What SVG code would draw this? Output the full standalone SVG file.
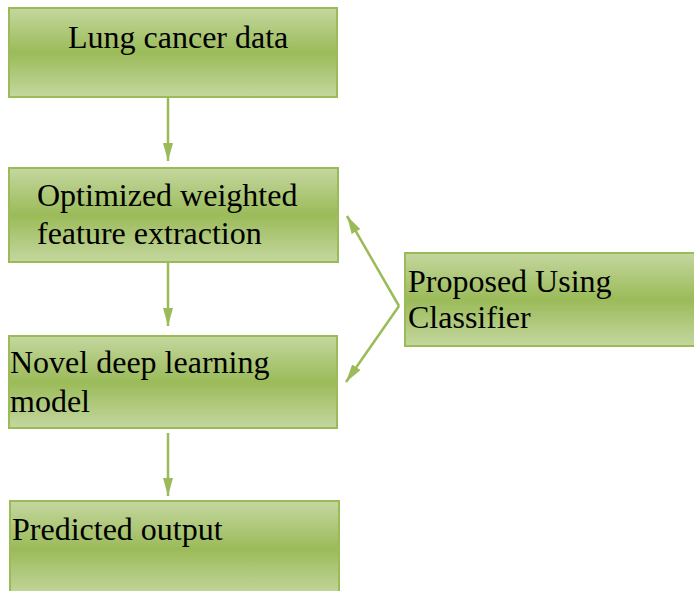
<svg xmlns="http://www.w3.org/2000/svg" width="694" height="591" viewBox="0 0 694 591">
<defs>
<linearGradient id="g" x1="0" y1="0" x2="0" y2="1">
<stop offset="0" stop-color="#c4d79f"/>
<stop offset="0.5" stop-color="#9bbb59"/>
<stop offset="1" stop-color="#c4d79f"/>
</linearGradient>
<marker id="ahv" viewBox="0 0 18 10" refX="18" refY="5" markerWidth="18" markerHeight="10" markerUnits="userSpaceOnUse" orient="auto">
<path d="M0,0 L18,5 L0,10 Z" fill="#9bbb59"/>
</marker>
</defs>
<style>
.box{fill:url(#g);stroke:#9bbb59;stroke-width:2}
.t{font-family:"Liberation Serif","Times New Roman",serif;font-size:32px;fill:#000}
.c{fill:none;stroke:#9bbb59;stroke-width:2.5}
</style>
<g id="connectors">
<line class="c" x1="168" y1="98" x2="168" y2="161" marker-end="url(#ahv)"/>
<line class="c" x1="168" y1="263" x2="168" y2="326" marker-end="url(#ahv)"/>
<line class="c" x1="168" y1="433" x2="168" y2="496" marker-end="url(#ahv)"/>
<line class="c" x1="399" y1="306" x2="347" y2="216" marker-end="url(#ahv)"/>
<line class="c" x1="399" y1="306" x2="346" y2="382" marker-end="url(#ahv)"/>
</g>
<g id="node1">
<rect class="box" x="9" y="8" width="328" height="89"/>
<text class="t" x="68" y="48">Lung cancer data</text>
</g>
<g id="node2">
<rect class="box" x="9" y="168" width="329" height="94"/>
<text class="t" x="37" y="206">Optimized weighted</text>
<text class="t" x="37" y="244">feature extraction</text>
</g>
<g id="node3">
<rect class="box" x="9" y="336" width="328" height="92"/>
<text class="t" x="10" y="373">Novel deep learning</text>
<text class="t" x="10" y="412">model</text>
</g>
<g id="node4">
<rect class="box" x="10" y="501" width="329" height="96"/>
<text class="t" x="12" y="540">Predicted output</text>
</g>
<g id="node5">
<rect class="box" x="405" y="253" width="295" height="93"/>
<text class="t" x="408" y="292">Proposed Using</text>
<text class="t" x="408" y="328">Classifier</text>
</g>
</svg>
